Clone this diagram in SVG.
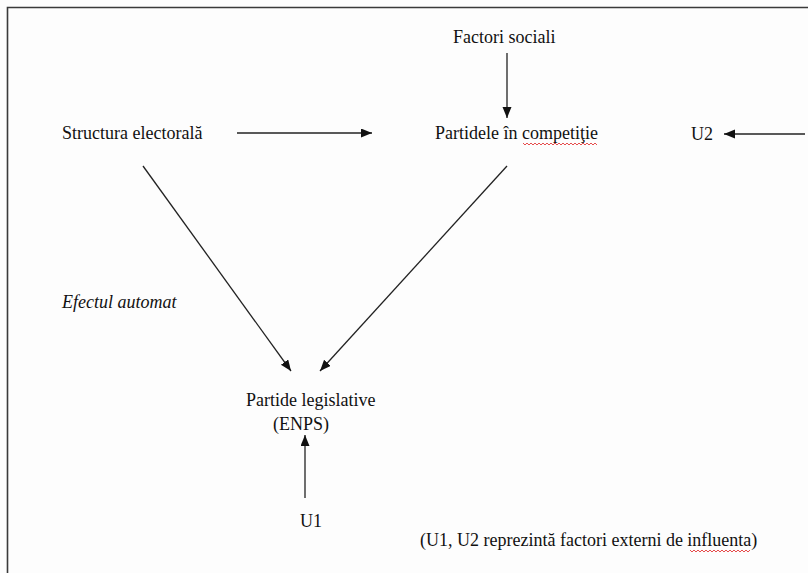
<svg xmlns="http://www.w3.org/2000/svg" width="808" height="573" viewBox="0 0 808 573">
<style>
  text { font-family: 'Liberation Serif', 'Times New Roman', Tinos, 'DejaVu Serif', serif; font-size: 18px; fill: #111; }
  .it { font-style: italic; }
  .conn line { stroke: #222; stroke-width: 1.3; fill: none; marker-end: url(#ah); }
  .wavy { stroke: #e02020; stroke-width: 0.8; fill: none; }
  .frame { stroke: #3a3a3a; stroke-width: 1.6; fill: none; }
</style>
<defs>
  <marker id="ah" markerUnits="userSpaceOnUse" markerWidth="12" markerHeight="10" refX="11" refY="4.5" orient="auto">
    <path d="M0,0 L11,4.5 L0,9 Z" fill="#111"/>
  </marker>
</defs>
<rect width="808" height="573" fill="#fdfdfd"/>
<polyline class="frame" points="7.5,573 7.5,7.5 808,7.5"/>

<g id="factori-sociali"><text x="453" y="43">Factori sociali</text></g>
<g id="structura-electorala"><text x="62" y="139">Structura electorală</text></g>
<g id="partidele-in-competitie"><text x="435" y="139">Partidele în competiţie</text>
  <path class="wavy" d="M523,143 l2,2 l2,-2 l2,2 l2,-2 l2,2 l2,-2 l2,2 l2,-2 l2,2 l2,-2 l2,2 l2,-2 l2,2 l2,-2 l2,2 l2,-2 l2,2 l2,-2 l2,2 l2,-2 l2,2 l2,-2 l2,2 l2,-2 l2,2 l2,-2 l2,2 l2,-2 l2,2 l2,-2 l2,2 l2,-2 l2,2 l2,-2 l2,2 l2,-2 l2,2"/>
</g>
<g id="u2"><text x="691" y="140">U2</text></g>
<g id="efectul-automat"><text class="it" x="62" y="308">Efectul automat</text></g>
<g id="partide-legislative"><text x="246" y="406">Partide legislative</text><text x="273" y="430">(ENPS)</text></g>
<g id="u1"><text x="300" y="527">U1</text></g>
<g id="nota"><text x="420" y="546">(U1, U2 reprezintă factori externi de influenta)</text>
  <path class="wavy" d="M690,550 l2,2 l2,-2 l2,2 l2,-2 l2,2 l2,-2 l2,2 l2,-2 l2,2 l2,-2 l2,2 l2,-2 l2,2 l2,-2 l2,2 l2,-2 l2,2 l2,-2 l2,2 l2,-2 l2,2 l2,-2 l2,2 l2,-2 l2,2 l2,-2 l2,2 l2,-2 l2,2 l2,-2"/>
</g>

<g id="connectors" class="conn">
  <line x1="507" y1="53" x2="507" y2="118"/>
  <line x1="237" y1="133" x2="372" y2="133"/>
  <line x1="805" y1="134" x2="724" y2="134"/>
  <line x1="143" y1="166" x2="291" y2="371"/>
  <line x1="507" y1="166" x2="320" y2="371"/>
  <line x1="305" y1="498" x2="305" y2="435"/>
</g>
</svg>
